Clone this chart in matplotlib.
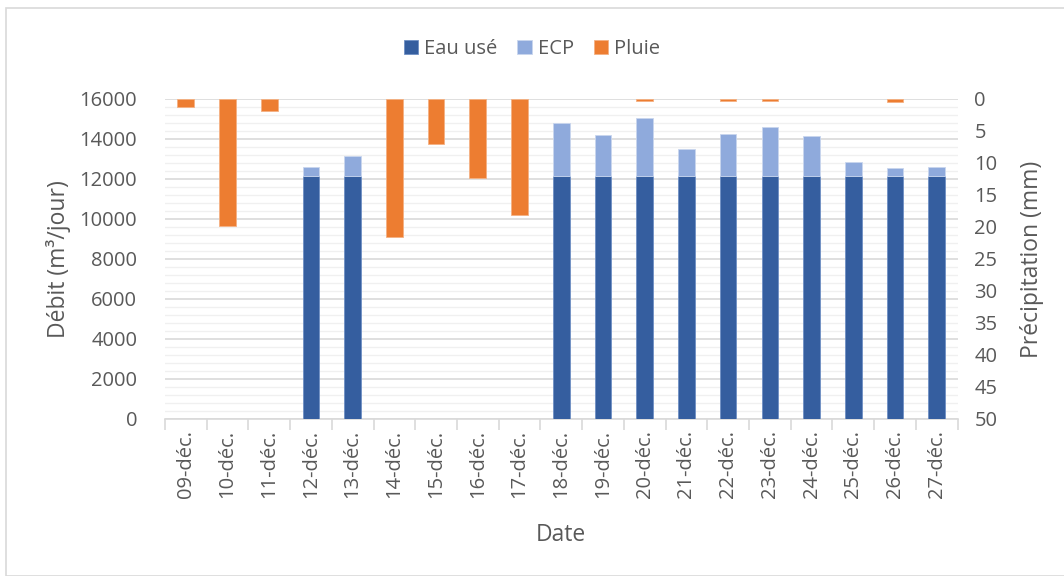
import numpy as np
import matplotlib.pyplot as plt
from matplotlib.patches import Rectangle
from matplotlib.ticker import MultipleLocator

# donnees journalieres
dates = ['09-déc.', '10-déc.', '11-déc.', '12-déc.', '13-déc.', '14-déc.', '15-déc.',
         '16-déc.', '17-déc.', '18-déc.', '19-déc.', '20-déc.', '21-déc.', '22-déc.',
         '23-déc.', '24-déc.', '25-déc.', '26-déc.', '27-déc.']
eau_use = [0, 0, 0, 12150, 12150, 0, 0, 0, 0, 12150, 12150, 12150, 12150, 12150,
           12150, 12150, 12150, 12150, 12150]
debit_total = [0, 0, 0, 12600, 13150, 0, 0, 0, 0, 14800, 14200, 15050, 13480, 14230,
               14600, 14150, 12850, 12530, 12580]
pluie = [1.2, 19.8, 1.9, 0, 0, 21.5, 7.0, 12.3, 18.1, 0, 0, 0.25, 0, 0.25,
         0.25, 0, 0, 0.5, 0]

ecp = [t - e if t > 0 else 0 for t, e in zip(debit_total, eau_use)]

plt.rcParams['font.family'] = ['Open Sans', 'DejaVu Sans']
gris = '#595959'

fig = plt.figure(figsize=(10.64, 5.76), dpi=100)
# cadre du graphique
fig.patches.append(Rectangle((6 / 1064, 0), 1.1, 568 / 576, transform=fig.transFigure,
                             fill=False, edgecolor='#D9D9D9', linewidth=1.2))

ax = fig.add_axes([0.155, 0.2726, 0.745, 0.5556])
x = np.arange(len(dates))
w = 0.4


def barres(axe, valeurs, bas, couleur, bord, nom):
    # on ne trace que les barres non nulles (sinon un trait apparait a zero)
    idx = [i for i, v in enumerate(valeurs) if v > 0]
    return axe.bar([x[i] for i in idx], [valeurs[i] for i in idx], w,
                   bottom=[bas[i] for i in idx], color=couleur, edgecolor=bord,
                   linewidth=0.6, label=nom, zorder=3)


zeros = [0] * len(dates)
b1 = barres(ax, eau_use, zeros, '#355E9F', '#6F8FC4', 'Eau usé')
b2 = barres(ax, ecp, eau_use, '#8FAADC', '#C9D6EE', 'ECP')

ax.set_ylim(0, 16000)
ax.set_xlim(-0.5, len(dates) - 0.5)
ax.yaxis.set_major_locator(MultipleLocator(2000))
ax.yaxis.set_minor_locator(MultipleLocator(400))
ax.grid(which='major', axis='y', color='#D9D9D9', linewidth=1.2, zorder=0)
ax.grid(which='minor', axis='y', color='#F0F0F0', linewidth=1.0, zorder=0)
ax.set_axisbelow(True)
for s in ['top', 'right', 'left']:
    ax.spines[s].set_visible(False)
ax.spines['bottom'].set_color('#D9D9D9')
ax.spines['bottom'].set_linewidth(1.2)
ax.set_xticks(x)
ax.set_xticklabels(dates, rotation=90)
ax.set_xticks(np.arange(-0.5, len(dates), 1), minor=True)
ax.tick_params(axis='x', which='major', length=0, pad=8, labelsize=14.5, labelcolor=gris)
ax.tick_params(axis='x', which='minor', length=8, color='#D9D9D9', width=1.2)
ax.tick_params(axis='y', which='both', length=0, labelsize=14.5, labelcolor=gris, pad=20)
ax.set_xlabel('Date', fontsize=16.5, color=gris, labelpad=18)
ax.set_ylabel('Débit (m³/jour)', fontsize=16.5, color=gris, labelpad=6)

# precipitations sur l'axe secondaire inverse
ax2 = ax.twinx()
b3 = barres(ax2, pluie, zeros, '#ED7D31', '#F4B183', 'Pluie')
ax2.set_ylim(50, 0)
ax2.yaxis.set_major_locator(MultipleLocator(5))
for s in ax2.spines.values():
    s.set_visible(False)
ax2.tick_params(axis='y', length=0, labelsize=14.5, labelcolor=gris, pad=12)
ax2.set_ylabel('Précipitation (mm)', fontsize=16.5, color=gris, labelpad=16)

fig.legend([b1, b2, b3], ['Eau usé', 'ECP', 'Pluie'], loc='center',
           bbox_to_anchor=(0.5, 0.915), ncol=3, frameon=False, fontsize=14.5,
           handlelength=0.7, handleheight=0.7, handletextpad=0.3, columnspacing=1.0,
           labelcolor=gris)

fig.savefig('out.png', dpi=100)
